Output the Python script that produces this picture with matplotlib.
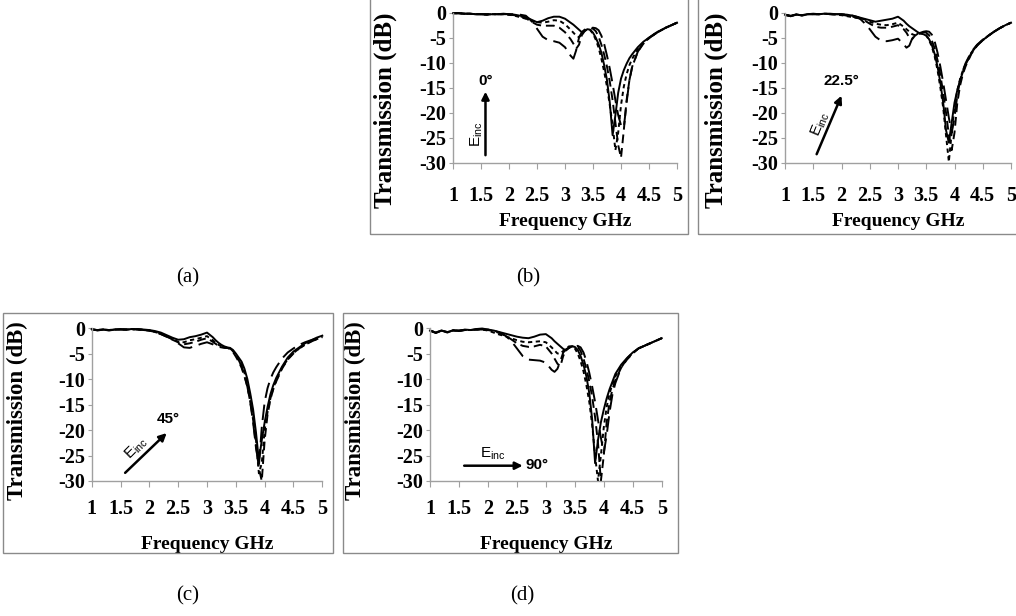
import matplotlib.pyplot as plt
from matplotlib.patches import Rectangle

# ====================== data ======================

freq = [1.0, 1.1, 1.2, 1.3, 1.4, 1.5, 1.6, 1.7, 1.8, 1.9,
        2.0, 2.1, 2.2, 2.3, 2.4, 2.5, 2.6, 2.7, 2.8, 2.9,
        3.0, 3.1, 3.15, 3.2, 3.25, 3.3, 3.35, 3.4, 3.45, 3.5,
        3.55, 3.6, 3.65, 3.7, 3.75, 3.8, 3.85, 3.9, 3.95, 4.0,
        4.05, 4.1, 4.15, 4.2, 4.3, 4.4, 4.5, 4.6, 4.7, 4.8,
        4.9, 5.0]

xtick_vals = [1, 1.5, 2, 2.5, 3, 3.5, 4, 4.5, 5]
xtick_labels = ['1', '1.5', '2', '2.5', '3', '3.5', '4', '4.5', '5']
ytick_vals = [0, -5, -10, -15, -20, -25, -30]
ytick_labels = ['0', '-5', '-10', '-15', '-20', '-25', '-30']

# (b) 0 deg
b_solid = [-0.1, -0.1, -0.2, -0.2, -0.3, -0.3, -0.4, -0.3, -0.3, -0.2,
           -0.3, -0.4, -0.6, -0.9, -1.4, -1.9, -1.6, -1.1, -0.8, -0.8,
           -1.2, -2.0, -2.4, -2.9, -3.4, -3.9, -3.6, -3.3, -3.4, -4.0,
           -5.0, -6.3, -8.0, -10.5, -13.5, -18.0, -24.5, -20.5, -16.0, -13.2,
           -11.5, -10.2, -9.1, -8.3, -6.9, -5.8, -5.0, -4.3, -3.6, -3.0,
           -2.5, -2.0]
b_short = [-0.1, -0.1, -0.2, -0.2, -0.3, -0.3, -0.4, -0.3, -0.3, -0.3,
           -0.4, -0.6, -0.9, -1.2, -1.6, -1.9, -2.0, -1.8, -1.5, -1.6,
           -2.3, -3.4, -4.0, -4.6, -4.9, -4.2, -3.6, -3.3, -3.5, -4.2,
           -5.4, -7.0, -9.2, -11.8, -14.8, -18.5, -22.5, -27.5, -24.0, -18.5,
           -14.8, -12.3, -10.5, -9.2, -7.3, -6.0, -5.1, -4.3, -3.6, -3.0,
           -2.5, -2.0]
b_medium = [-0.1, -0.1, -0.2, -0.2, -0.3, -0.3, -0.3, -0.3, -0.3, -0.3,
            -0.4, -0.5, -0.7, -1.1, -1.8, -2.4, -2.6, -2.6, -2.6, -3.0,
            -3.9, -5.3, -6.2, -7.2, -6.4, -4.5, -3.7, -3.3, -3.1, -3.2,
            -3.7, -4.8, -6.4, -8.4, -10.8, -13.8, -17.5, -22.0, -26.5, -29.0,
            -23.5, -17.5, -13.5, -10.8, -7.8, -6.2, -5.1, -4.3, -3.6, -3.0,
            -2.5, -2.0]
b_long = [-0.1, -0.1, -0.2, -0.2, -0.3, -0.3, -0.3, -0.3, -0.3, -0.3,
          -0.3, -0.3, -0.4, -0.6, -1.6, -3.2, -4.8, -5.5, -5.7, -6.0,
          -6.9, -8.6, -9.2, -7.5, -5.0, -3.9, -3.4, -3.2, -3.1, -3.0,
          -3.1, -3.5, -4.6, -6.3, -8.6, -11.2, -14.2, -17.5, -20.5, -22.5,
          -23.0, -18.0, -13.5, -10.8, -7.8, -6.0, -5.0, -4.2, -3.5, -3.0,
          -2.5, -2.0]

# 22.5 deg
r_solid = [-0.4, -0.7, -0.3, -0.6, -0.3, -0.2, -0.3, -0.2, -0.2, -0.3,
           -0.3, -0.4, -0.6, -0.9, -1.2, -1.5, -1.8, -1.6, -1.4, -1.2,
           -0.8, -1.6, -2.2, -2.7, -3.1, -3.5, -3.9, -4.2, -4.3, -4.6,
           -5.3, -6.5, -8.3, -10.8, -14.0, -18.0, -23.5, -26.0, -22.0, -18.0,
           -15.5, -13.5, -11.8, -10.3, -8.0, -6.5, -5.5, -4.6, -3.8, -3.1,
           -2.5, -2.0]
r_short = [-0.5, -0.6, -0.4, -0.5, -0.3, -0.3, -0.3, -0.2, -0.3, -0.4,
           -0.5, -0.7, -0.9, -1.1, -1.3, -1.8, -2.2, -2.4, -2.5, -2.3,
           -2.0, -2.8, -3.3, -3.8, -4.3, -4.5, -4.3, -4.1, -4.1, -4.5,
           -5.5, -6.8, -8.8, -11.5, -15.0, -19.0, -24.5, -29.8, -24.0, -19.0,
           -15.5, -13.2, -11.5, -10.2, -8.0, -6.5, -5.5, -4.6, -3.8, -3.1,
           -2.5, -2.0]
r_medium = [-0.4, -0.6, -0.4, -0.5, -0.3, -0.3, -0.3, -0.2, -0.3, -0.3,
            -0.4, -0.6, -0.8, -1.1, -1.5, -2.2, -2.8, -3.0, -3.0, -2.8,
            -2.5, -3.3, -4.0, -5.0, -5.3, -4.6, -4.2, -4.0, -3.9, -4.0,
            -4.5, -5.6, -7.2, -9.5, -12.5, -16.0, -20.0, -24.5, -27.5, -24.0,
            -18.0, -14.5, -12.2, -10.6, -8.2, -6.6, -5.5, -4.6, -3.8, -3.1,
            -2.5, -2.0]
r_long = [-0.4, -0.7, -0.4, -0.5, -0.3, -0.3, -0.3, -0.2, -0.3, -0.3,
          -0.3, -0.4, -0.6, -0.9, -2.0, -3.3, -4.8, -5.6, -5.7, -5.5,
          -5.2, -6.3, -7.0, -6.6, -5.2, -4.5, -4.2, -4.0, -3.8, -3.7,
          -3.8, -4.4, -5.8, -8.0, -10.8, -14.0, -17.5, -21.0, -24.0, -21.0,
          -16.5, -13.5, -11.5, -10.0, -7.8, -6.4, -5.4, -4.6, -3.8, -3.1,
          -2.5, -2.0]

# (c) 45 deg
c_solid = [-0.2, -0.5, -0.3, -0.5, -0.3, -0.2, -0.3, -0.2, -0.2, -0.3,
           -0.4, -0.6, -0.9, -1.4, -1.9, -2.3, -2.2, -1.8, -1.6, -1.3,
           -0.9, -1.8, -2.4, -2.9, -3.3, -3.6, -3.8, -3.9, -4.3, -5.0,
           -5.8, -6.6, -8.0, -10.0, -12.8, -16.0, -20.5, -26.0, -22.0, -18.5,
           -15.5, -13.0, -11.2, -9.8, -7.6, -5.8, -4.6, -3.8, -3.0, -2.5,
           -1.9, -1.5]
c_short = [-0.3, -0.4, -0.3, -0.4, -0.3, -0.3, -0.3, -0.2, -0.3, -0.3,
           -0.5, -0.8, -1.1, -1.6, -2.2, -2.7, -2.8, -2.4, -2.2, -1.9,
           -1.6, -2.4, -2.9, -3.3, -3.6, -3.8, -3.9, -4.0, -4.5, -5.3,
           -6.2, -7.3, -8.8, -10.8, -13.5, -17.0, -22.0, -28.5, -26.5, -20.0,
           -16.5, -13.8, -11.8, -10.3, -7.9, -6.1, -4.9, -4.0, -3.3, -2.7,
           -2.2, -1.8]
c_medium = [-0.3, -0.4, -0.3, -0.4, -0.3, -0.3, -0.3, -0.3, -0.3, -0.4,
            -0.5, -0.8, -1.2, -1.7, -2.3, -2.8, -3.2, -3.0, -2.7, -2.3,
            -2.0, -2.7, -3.1, -3.5, -3.7, -3.8, -3.9, -4.1, -4.7, -5.6,
            -6.6, -7.8, -9.5, -11.5, -14.5, -18.0, -23.0, -27.5, -30.0, -22.0,
            -17.0, -14.0, -12.0, -10.5, -8.0, -6.2, -5.0, -4.0, -3.2, -2.7,
            -2.2, -1.7]
c_long = [-0.3, -0.4, -0.3, -0.4, -0.3, -0.3, -0.3, -0.3, -0.3, -0.4,
          -0.5, -0.8, -1.2, -1.7, -2.2, -3.0, -3.8, -3.9, -3.5, -3.1,
          -2.8, -3.2, -3.5, -3.7, -3.8, -3.9, -3.9, -4.0, -4.5, -5.3,
          -6.3, -7.5, -9.3, -11.5, -14.5, -18.5, -23.5, -27.0, -19.5, -14.5,
          -11.8, -10.0, -8.7, -7.7, -6.0, -4.8, -4.0, -3.3, -2.8, -2.4,
          -2.0, -1.6]

# (d) 90 deg
d_solid = [-0.5, -1.0, -0.5, -0.9, -0.4, -0.6, -0.3, -0.4, -0.2, -0.1,
           -0.3, -0.5, -0.8, -1.1, -1.4, -1.7, -1.9, -2.0, -1.7, -1.3,
           -1.2, -2.0, -2.6, -3.1, -3.6, -4.1, -4.4, -3.9, -3.6, -3.7,
           -4.3, -5.5, -7.2, -9.5, -12.8, -18.0, -26.5, -22.0, -18.5, -16.0,
           -13.8, -12.0, -10.5, -9.0, -7.2, -5.9, -4.8, -4.0, -3.5, -3.0,
           -2.5, -2.0]
d_short = [-0.5, -0.9, -0.5, -0.8, -0.5, -0.6, -0.4, -0.4, -0.3, -0.3,
           -0.5, -0.9, -1.3, -1.6, -2.0, -2.4, -2.7, -2.8, -2.7, -2.6,
           -2.8, -3.8, -4.4, -5.0, -5.0, -4.5, -4.0, -3.6, -3.6, -4.0,
           -5.0, -6.5, -8.5, -11.2, -14.5, -19.0, -25.0, -30.0, -25.0, -19.5,
           -15.5, -12.8, -11.0, -9.5, -7.4, -6.0, -4.9, -4.0, -3.5, -3.0,
           -2.5, -2.0]
d_medium = [-0.5, -0.9, -0.5, -0.8, -0.5, -0.5, -0.4, -0.4, -0.3, -0.3,
            -0.4, -0.6, -1.0, -1.5, -2.2, -3.0, -3.5, -3.7, -3.6, -3.3,
            -3.6, -5.0, -6.0, -7.0, -7.5, -5.5, -4.2, -3.8, -3.6, -3.5,
            -3.7, -4.5, -6.0, -8.0, -10.5, -13.5, -17.5, -22.5, -30.0, -25.0,
            -18.5, -14.5, -12.0, -10.2, -7.8, -6.2, -5.0, -4.0, -3.5, -3.0,
            -2.5, -2.0]
d_long = [-0.5, -0.9, -0.5, -0.8, -0.5, -0.5, -0.4, -0.4, -0.3, -0.3,
          -0.3, -0.5, -0.9, -1.5, -2.5, -4.0, -5.5, -6.2, -6.3, -6.4,
          -6.8, -8.2, -8.6, -8.0, -6.5, -4.8, -4.2, -3.9, -3.7, -3.6,
          -3.5, -3.8, -4.8, -6.5, -8.8, -11.5, -14.5, -18.0, -21.5, -24.5,
          -21.0, -16.5, -13.0, -10.8, -7.8, -6.0, -4.9, -4.0, -3.5, -3.0,
          -2.5, -2.0]

angle_labels = ['0°', '22.5°', '45°', '90°']
panel_letters = ['(a)', '(b)', '(c)', '(d)']

# ====================== plot ======================

W, H = 1016, 616
fig = plt.figure(figsize=(W / 100, H / 100), dpi=100)
gray = '#a0a0a0'
serif = 'Liberation Serif'
sans = 'Liberation Sans'


def px_axes(x0, x1, ytop, ybot):
    return fig.add_axes([x0 / W, 1 - ybot / H, (x1 - x0) / W, (ybot - ytop) / H])


def frame(x0, x1, ytop, ybot):
    fig.add_artist(Rectangle((x0 / W, 1 - ybot / H), (x1 - x0) / W, (ybot - ytop) / H,
                             transform=fig.transFigure, fill=False,
                             edgecolor='#8a8a8a', lw=1.0, clip_on=False))


def setup(ax, xpad, fs_tick, fs_xlab, fs_ylab, xlab_y, ylab_x, ylab_y):
    ax.set_xlim(1, 5)
    ax.set_ylim(-30, 0)
    ax.set_xticks(xtick_vals)
    ax.set_xticklabels(xtick_labels, fontfamily=serif, fontweight='bold', fontsize=fs_tick)
    ax.set_yticks(ytick_vals)
    ax.set_yticklabels(ytick_labels, fontfamily=serif, fontweight='bold', fontsize=fs_tick)
    for s in ['top', 'right']:
        ax.spines[s].set_visible(False)
    for s in ['left', 'bottom']:
        ax.spines[s].set_color(gray)
        ax.spines[s].set_linewidth(1.0)
    ax.tick_params(axis='x', direction='out', length=4, color=gray, pad=xpad)
    ax.tick_params(axis='y', direction='out', length=3, color=gray, pad=2)
    ax.set_xlabel('Frequency GHz', fontfamily=serif, fontweight='bold', fontsize=fs_xlab)
    ax.set_ylabel('Transmission (dB)', fontfamily=serif, fontweight='bold', fontsize=fs_ylab)
    ax.xaxis.set_label_coords(0.5, xlab_y)
    ax.yaxis.set_label_coords(ylab_x, ylab_y)


def curves(ax, solid, short, medium, long_):
    kw = dict(color='black', lw=1.4, clip_on=False)
    ax.plot(freq, solid, ls='-', **kw)
    ax.plot(freq, short, ls=(0, (2.2, 1.8)), **kw)
    ax.plot(freq, medium, ls=(0, (4.5, 2.5)), **kw)
    ax.plot(freq, long_, ls=(0, (8, 3.5)), **kw)


def arrow(ax, tail, tip):
    ax.annotate('', xy=tip, xytext=tail,
                arrowprops=dict(arrowstyle='-|>', color='black', lw=1.8, mutation_scale=11,
                                shrinkA=0, shrinkB=0))


einc = r'$\mathregular{E_{inc}}$'

# frames
frame(370, 688, -5, 234)
frame(698, 1025, -5, 234)
frame(3, 333, 313, 553)
frame(343, 678, 313, 553)

# (b) 0 deg
ax_b = px_axes(453, 677, 12.7, 162.7)
setup(ax_b, 13, 14.5, 14, 18, -0.335, -0.25, 0.35)
curves(ax_b, b_solid, b_short, b_medium, b_long)
arrow(ax_b, (1.58, -28.5), (1.58, -15.8))
ax_b.text(1.58, -15.0, angle_labels[0], fontfamily=sans, fontweight='bold', fontsize=11,
          ha='center', va='bottom')
ax_b.text(1.42, -24.3, einc, fontfamily=sans, fontsize=11, rotation=90, ha='center', va='center')

# 22.5 deg
ax_r = px_axes(785, 1011, 12.7, 162.7)
setup(ax_r, 13, 14.5, 14, 18, -0.335, -0.25, 0.35)
curves(ax_r, r_solid, r_short, r_medium, r_long)
arrow(ax_r, (1.56, -28.3), (2.0, -16.6))
ax_r.text(2.0, -15.0, angle_labels[1], fontfamily=sans, fontweight='bold', fontsize=11,
          ha='center', va='bottom')
ax_r.text(1.62, -22.3, einc, fontfamily=sans, fontsize=11, rotation=67.5, ha='center', va='center')

# (c) 45 deg
ax_c = px_axes(91.7, 322.3, 328, 481)
setup(ax_c, 9, 14.5, 14, 16.5, -0.36, -0.276, 0.46)
curves(ax_c, c_solid, c_short, c_medium, c_long)
arrow(ax_c, (1.58, -28.4), (2.3, -20.6))
ax_c.text(2.32, -19.2, angle_labels[2], fontfamily=sans, fontweight='bold', fontsize=11,
          ha='center', va='bottom')
ax_c.text(1.78, -23.6, einc, fontfamily=sans, fontsize=11, rotation=45, ha='center', va='center')

# (d) 90 deg
ax_d = px_axes(430, 661.7, 328, 481)
setup(ax_d, 9, 14.5, 14, 16.5, -0.36, -0.276, 0.46)
curves(ax_d, d_solid, d_short, d_medium, d_long)
arrow(ax_d, (1.59, -27.0), (2.6, -27.0))
ax_d.text(2.65, -26.8, angle_labels[3], fontfamily=sans, fontweight='bold', fontsize=11,
          ha='left', va='center')
ax_d.text(2.08, -26.2, einc, fontfamily=sans, fontsize=11, ha='center', va='bottom')

# captions
for letter, (cx, cy) in zip(panel_letters, [(188, 278), (528, 278), (188, 596), (522, 596)]):
    fig.text(cx / W, 1 - cy / H, letter, fontfamily=serif, fontsize=15, ha='center', va='center')

plt.savefig('out.png', dpi=100)
